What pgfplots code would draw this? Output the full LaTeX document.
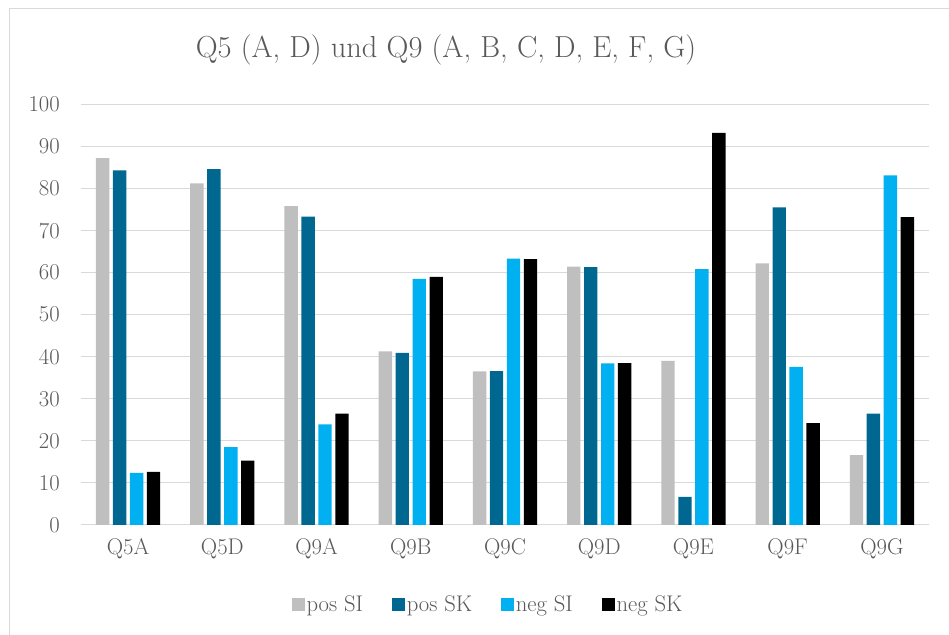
\documentclass[border=0pt]{standalone}
\usepackage{pgfplots}
\pgfplotsset{compat=1.18}
\definecolor{txt}{HTML}{595959}
\definecolor{gridc}{HTML}{D9D9D9}
\definecolor{cgray}{HTML}{BFBFBF}
\definecolor{cdark}{HTML}{006890}
\definecolor{ccyan}{HTML}{00B0F0}
\begin{document}
\begin{tikzpicture}
\path[use as bounding box] (0,0) rectangle (711.75pt,476.25pt);
\draw[gridc, line width=0.75pt] (6.75pt,-2pt) -- (6.75pt,469.5pt) -- (714pt,469.5pt);
\node[text=txt, font=\fontsize{22.8}{27}\selectfont] at (334.5pt,438.75pt) {Q5 (A, D) und Q9 (A, B, C, D, E, F, G)};
\begin{axis}[
  at={(60.75pt,82.5pt)}, anchor=south west,
  scale only axis, width=636pt, height=315.5pt,
  ybar, bar width=0.142,
  xmin=-0.5, xmax=8.5, ymin=0, ymax=100,
  ytick={0,10,...,100},
  xtick={0,...,8},
  xticklabels={Q5A,Q5D,Q9A,Q9B,Q9C,Q9D,Q9E,Q9F,Q9G},
  axis line style={draw=none},
  major tick length=0pt,
  ymajorgrids, grid style={gridc, line width=0.75pt},
  /pgf/number format/assume math mode=true,
  ticklabel style={text=txt, font=\fontsize{17}{20}\selectfont, inner sep=0pt},
  yticklabel style={anchor=east, xshift=-15.75pt},
  xticklabel style={anchor=north, yshift=-10pt},
  legend columns=4,
  legend image code/.code={\fill[#1] (0pt,-4.9pt) rectangle (9.75pt,4.9pt);},
  legend style={at={(0.48,-0.19)}, anchor=center, draw=none, text=txt,
    font=\fontsize{17}{20}\selectfont,
    nodes={inner sep=1.5pt},
    /tikz/every even column/.append style={column sep=20pt}},
]
\addplot[fill=cgray, draw=none, bar shift=-0.27] coordinates {(0,87.2) (1,81.2) (2,75.8) (3,41.3) (4,36.5) (5,61.4) (6,39.0) (7,62.2) (8,16.6)};
\addlegendentry{pos SI}
\addplot[fill=cdark, draw=none, bar shift=-0.09] coordinates {(0,84.3) (1,84.6) (2,73.3) (3,40.9) (4,36.6) (5,61.3) (6,6.7) (7,75.5) (8,26.5)};
\addlegendentry{pos SK}
\addplot[fill=ccyan, draw=none, bar shift=0.09] coordinates {(0,12.4) (1,18.5) (2,23.9) (3,58.5) (4,63.3) (5,38.4) (6,60.8) (7,37.6) (8,83.1)};
\addlegendentry{neg SI}
\addplot[fill=black, draw=none, bar shift=0.27] coordinates {(0,12.6) (1,15.3) (2,26.5) (3,59.0) (4,63.2) (5,38.5) (6,93.2) (7,24.2) (8,73.2)};
\addlegendentry{neg SK}
\end{axis}
\end{tikzpicture}
\end{document}
